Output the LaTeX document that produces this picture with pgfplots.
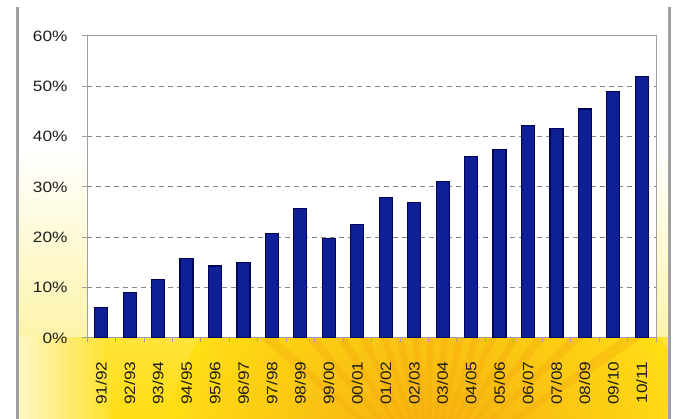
\documentclass[border=0pt]{standalone}
\usepackage{fontspec}
\setmainfont[FakeStretch=1.15]{Liberation Sans}
\usepackage{pgfplots}
\pgfplotsset{compat=1.18}

\definecolor{barnavy}{RGB}{0,6,85}
\definecolor{barblue}{RGB}{14,32,150}
\definecolor{sunyellow}{RGB}{255,222,20}
\definecolor{paleyellow}{RGB}{253,244,170}
\definecolor{sunorange}{RGB}{245,168,15}
\definecolor{framegray}{RGB}{160,160,160}
\definecolor{gridgray}{RGB}{135,135,135}
\definecolor{labelgray}{RGB}{30,30,30}

\begin{document}
\begin{tikzpicture}[x=1pt,y=1pt]
\useasboundingbox (0,0) rectangle (677,419);
\fill[white] (0,0) rectangle (677,419);
% panel background: white at the top, warming to yellow at the bottom
\fill[white] (19,270) rectangle (668,412);
\shade[top color=white, bottom color=paleyellow] (19,81) rectangle (668,270.5);
\shade[top color=sunyellow!75!paleyellow, bottom color=sunyellow] (110,0) rectangle (668,81.5);
\shade[left color=paleyellow!70!white, right color=sunyellow!85!paleyellow] (19,0) rectangle (110.5,81.5);
% sunburst below the bars
\begin{scope}
  \clip (19,0) rectangle (668,81.5);
  \shade[inner color=sunorange, outer color=sunyellow] (430,-60) circle (270);
  \foreach \a in {35,44,52,59,66,72,78,84,90,96,102,108,115,122,130,139}
    \fill[sunorange, opacity=0.35] (430,-60) -- +(\a-1.4:420) -- +(\a+1.4:420) -- cycle;
\end{scope}
% panel frame
\draw[framegray, line width=3] (17.5,0) -- (17.5,412);
\draw[framegray, line width=3] (669.5,0) -- (669.5,412);

\begin{axis}[
  at={(87pt,81pt)}, anchor=south west,
  scale only axis, width=569pt, height=302pt,
  xmin=-0.5, xmax=19.5, ymin=0, ymax=60,
  axis background/.style={fill=white},
  axis line style={framegray, line width=1pt},
  xtick={0,...,19},
  xticklabels={91/92,92/93,93/94,94/95,95/96,96/97,97/98,98/99,99/00,00/01,
               01/02,02/03,03/04,04/05,05/06,06/07,07/08,08/09,09/10,10/11},
  minor xtick={-0.5,0.5,...,19.5},
  ytick={0,10,...,60},
  yticklabels={0\%,10\%,20\%,30\%,40\%,50\%,60\%},
  tick align=outside, xtick pos=bottom, ytick pos=left,
  major x tick style={draw=none},
  minor x tick style={framegray, line width=0.8pt},
  minor tick length=4pt, major tick length=5pt,
  y tick style={framegray, line width=1pt},
  ymajorgrids,
  major grid style={gridgray, line width=1pt, dash pattern=on 5pt off 4pt},
  tick label style={font=\fontsize{15}{17}\selectfont, text=labelgray},
  x tick label style={rotate=90, anchor=east, xshift=-15pt},
  y tick label style={xshift=-11pt},
  ybar, bar width=13pt,
]
\addplot[draw=barnavy, line width=1.2pt, fill=barblue]
  coordinates {
    (0,6.0) (1,9.0) (2,11.6) (3,15.8) (4,14.3)
    (5,15.0) (6,20.7) (7,25.8) (8,19.7) (9,22.5)
    (10,27.9) (11,26.9) (12,31.1) (13,36.0) (14,37.4)
    (15,42.2) (16,41.7) (17,45.5) (18,48.9) (19,52.0)
  };
\end{axis}
\end{tikzpicture}
\end{document}
